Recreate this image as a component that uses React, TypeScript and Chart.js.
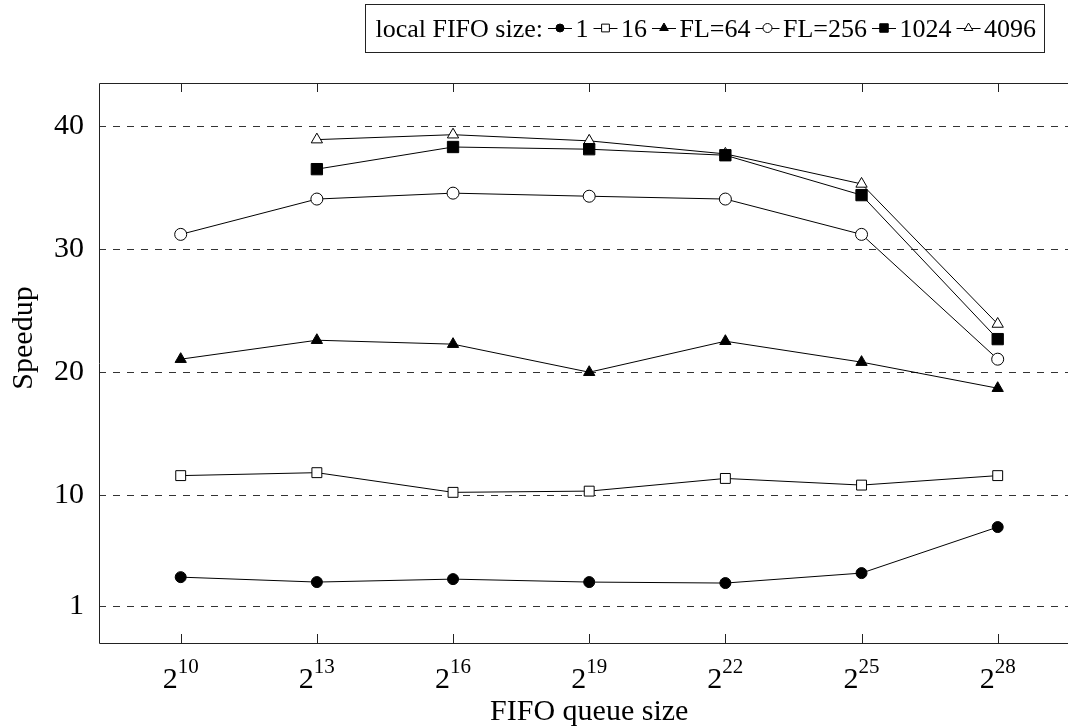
import React, { useEffect, useRef } from "react";
import { Chart, registerables } from "chart.js";

Chart.register(...registerables);

// ---- data ----
const exponents = [10, 13, 16, 19, 22, 25, 28];
const fifo1 = [3.35, 2.95, 3.19, 2.95, 2.87, 3.68, 7.42];
const fifo16 = [11.6, 11.84, 10.24, 10.34, 11.37, 10.83, 11.6];
const fl64 = [21.06, 22.6, 22.28, 20.0, 22.52, 20.82, 18.7];
const fl256 = [31.2, 34.07, 34.55, 34.3, 34.07, 31.2, 21.06];
const fifo1024 = [null, 36.5, 38.3, 38.12, 37.63, 34.39, 22.69];
const fifo4096 = [null, 38.9, 39.3, 38.8, 37.74, 35.3, 23.92];
const yTicks = [1, 10, 20, 30, 40];
const seriesLabels = ["1", "16", "FL=64", "FL=256", "1024", "4096"];
const legendTitle = "local FIFO size:";
const xTitle = "FIFO queue size";
const yTitle = "Speedup";

// ---- styles ----
const FONT = '"Liberation Serif", "Times New Roman", serif';
const TXT = 30;
const LEG = 26;
const markerStyles = [
  { shape: "circle", filled: true, r: 5.5, lr: 4 },
  { shape: "rect", filled: false, r: 7, lr: 5.5 },
  { shape: "triangle", filled: true, r: 6.5, lr: 5 },
  { shape: "circle", filled: false, r: 6, lr: 4.5 },
  { shape: "rect", filled: true, r: 8, lr: 6 },
  { shape: "triangle", filled: false, r: 6.5, lr: 5 },
];

function drawMarker(ctx: CanvasRenderingContext2D, shape: string, filled: boolean, x: number, y: number, r: number) {
  ctx.beginPath();
  if (shape === "circle") {
    ctx.arc(x, y, r, 0, Math.PI * 2);
  } else if (shape === "rect") {
    const s = r * Math.SQRT1_2;
    ctx.rect(x - s, y - s, 2 * s, 2 * s);
  } else {
    ctx.moveTo(x, y - r);
    ctx.lineTo(x + r * 0.866, y + r * 0.5);
    ctx.lineTo(x - r * 0.866, y + r * 0.5);
  }
  ctx.closePath();
  ctx.fillStyle = filled ? "#000" : "#fff";
  ctx.fill();
  ctx.lineWidth = 1;
  ctx.strokeStyle = "#000";
  ctx.stroke();
}

const decorPlugin = {
  id: "decor",
  afterDraw(chart: any) {
    const ctx: CanvasRenderingContext2D = chart.ctx;
    const { left, right, top, bottom } = chart.chartArea;
    const xs = chart.scales.x;
    ctx.save();
    // frame
    ctx.strokeStyle = "#222";
    ctx.lineWidth = 1;
    ctx.setLineDash([]);
    ctx.beginPath();
    ctx.moveTo(right, top + 0.5);
    ctx.lineTo(left + 0.5, top + 0.5);
    ctx.lineTo(left + 0.5, bottom + 0.5);
    ctx.lineTo(right, bottom + 0.5);
    ctx.stroke();
    // ticks on x
    ctx.beginPath();
    exponents.forEach((e) => {
      const px = Math.round(xs.getPixelForValue(e)) + 0.5;
      ctx.moveTo(px, bottom);
      ctx.lineTo(px, bottom - 9);
      ctx.moveTo(px, top);
      ctx.lineTo(px, top + 9);
    });
    ctx.stroke();
    // x tick labels 2^n
    ctx.fillStyle = "#000";
    ctx.textBaseline = "alphabetic";
    const supSize = Math.round(TXT * 0.7);
    exponents.forEach((e) => {
      const px = xs.getPixelForValue(e);
      ctx.font = `${TXT}px ${FONT}`;
      const wb = ctx.measureText("2").width;
      ctx.font = `${supSize}px ${FONT}`;
      const we = ctx.measureText(String(e)).width;
      const x0 = px - (wb + we) / 2;
      ctx.font = `${TXT}px ${FONT}`;
      ctx.textAlign = "left";
      ctx.fillText("2", x0, 688);
      ctx.font = `${supSize}px ${FONT}`;
      ctx.fillText(String(e), x0 + wb, 673);
    });
    // x title
    ctx.font = `${TXT}px ${FONT}`;
    ctx.textAlign = "center";
    ctx.fillText(xTitle, (left + right) / 2, 720);
    // y title
    ctx.save();
    ctx.translate(24, 338);
    ctx.rotate(-Math.PI / 2);
    ctx.textBaseline = "middle";
    ctx.fillText(yTitle, 0, 0);
    ctx.restore();

    // legend
    ctx.font = `${LEG}px ${FONT}`;
    ctx.textAlign = "left";
    ctx.textBaseline = "alphabetic";
    const padL = 10, padR = 8, gap1 = 5, sampleW = 24, gap2 = 3.5;
    let total = padL + ctx.measureText(legendTitle).width + padR;
    seriesLabels.forEach((l) => {
      total += gap1 + sampleW + gap2 + ctx.measureText(l).width;
    });
    const boxR = 1044, boxT = 4, boxB = 52;
    const boxL = boxR - total;
    ctx.strokeStyle = "#222";
    ctx.strokeRect(Math.round(boxL) + 0.5, boxT + 0.5, Math.round(total), boxB - boxT);
    const cy = (boxT + boxB) / 2;
    const base = cy + 9;
    let cx = boxL + padL;
    ctx.fillStyle = "#000";
    ctx.fillText(legendTitle, cx, base);
    cx += ctx.measureText(legendTitle).width;
    seriesLabels.forEach((l, i) => {
      cx += gap1;
      ctx.strokeStyle = "#000";
      ctx.lineWidth = 1;
      ctx.beginPath();
      ctx.moveTo(cx, cy + 0.5);
      ctx.lineTo(cx + sampleW, cy + 0.5);
      ctx.stroke();
      const m = markerStyles[i];
      drawMarker(ctx, m.shape, m.filled, cx + sampleW / 2, cy, m.lr);
      cx += sampleW + gap2;
      ctx.fillStyle = "#000";
      ctx.font = `${LEG}px ${FONT}`;
      ctx.fillText(l, cx, base);
      cx += ctx.measureText(l).width;
    });
    ctx.restore();
  },
};

function toPoints(values: (number | null)[]) {
  const pts: { x: number; y: number }[] = [];
  values.forEach((v, i) => {
    if (v !== null) pts.push({ x: exponents[i], y: v });
  });
  return pts;
}

export default function App() {
  const ref = useRef<HTMLCanvasElement | null>(null);
  useEffect(() => {
    if (!ref.current) return;
    const series = [fifo1, fifo16, fl64, fl256, fifo1024, fifo4096];
    const chart = new Chart(ref.current, {
      type: "line",
      data: {
        datasets: series.map((s, i) => ({
          label: seriesLabels[i],
          data: toPoints(s),
          borderColor: "#000",
          borderWidth: 1,
          tension: 0,
          pointStyle: markerStyles[i].shape as any,
          pointRadius: markerStyles[i].r,
          pointBorderWidth: 1,
          pointBorderColor: "#000",
          pointBackgroundColor: markerStyles[i].filled ? "#000" : "#fff",
          fill: false,
        })),
      },
      options: {
        animation: false,
        responsive: false,
        devicePixelRatio: 1,
        layout: { padding: { top: 83, right: 20.6, left: 0, bottom: 0 } },
        plugins: { legend: { display: false }, tooltip: { enabled: false } },
        scales: {
          x: {
            type: "linear",
            min: 8.2,
            max: 29.8,
            grid: { display: false },
            border: { display: false },
            ticks: { display: false },
            afterFit: (s: any) => {
              s.height = 85;
            },
          },
          y: {
            type: "linear",
            min: -2,
            max: 43.5,
            afterBuildTicks: (s: any) => {
              s.ticks = yTicks.map((v) => ({ value: v }));
            },
            afterFit: (s: any) => {
              s.width = 99;
            },
            grid: { color: "#333", lineWidth: 1, drawTicks: false },
            border: { display: false, dash: [7, 7] },
            ticks: {
              color: "#000",
              padding: 15,
              font: { family: FONT, size: TXT },
              callback: (v: any) => String(v),
            },
          },
        },
      },
      plugins: [decorPlugin],
    });
    return () => chart.destroy();
  }, []);
  return (
    <div style={{ position: "fixed", left: 0, top: 0, width: 1068, height: 728, overflow: "hidden", background: "#fff" }}>
      <canvas ref={ref} width={1100} height={728} style={{ width: 1100, height: 728, display: "block" }} />
    </div>
  );
}
